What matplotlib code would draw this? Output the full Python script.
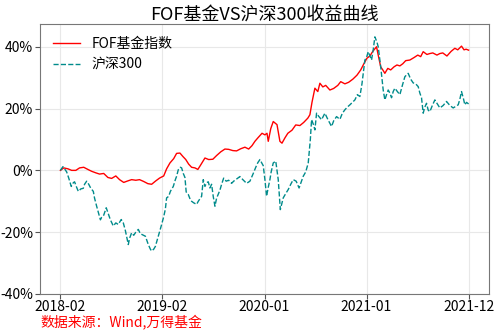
import numpy as np
import matplotlib
matplotlib.use("Agg")
import matplotlib.pyplot as plt
from matplotlib.ticker import PercentFormatter

plt.rcParams["font.family"] = ["Noto Sans CJK SC", "DejaVu Sans"]
plt.rcParams["axes.unicode_minus"] = False

# 交易日序号与累计收益(%)
fof_day = [0, 8, 18, 27, 37, 46, 56, 66, 75, 85, 94, 104, 114, 123, 133, 142,
           152, 162, 171, 181, 190, 200, 210, 219, 229, 238, 248, 255, 263, 272,
           279, 287, 294, 301, 308, 315, 323, 330, 337, 347, 356, 366, 375, 385,
           395, 404, 414, 423, 433, 443, 452, 460, 467, 474, 484, 491, 496, 499,
           505, 511, 520, 527, 532, 539, 546, 556, 565, 575, 584, 594, 599, 604,
           611, 618, 623, 630, 637, 647, 656, 666, 673, 683, 692, 702, 712, 721,
           729, 736, 743, 750, 759, 763, 769, 774, 779, 786, 793, 801, 808, 815,
           822, 829, 839, 849, 858, 865, 871, 880, 887, 894, 904, 911, 918, 928,
           938, 947, 954, 963, 969, 974, 980]
fof_ret = [0, 0.8, 0.5, 0, 0, 0.8, 1.0, 0.3, -0.3, -0.8, -1.2, -1.0, -2.3, -2.6,
           -1.8, -3.0, -3.9, -3.4, -3.0, -3.2, -3.0, -3.6, -4.3, -4.5, -3.4, -2.5,
           -1.8, 0.5, 2.4, 3.8, 5.5, 5.6, 4.5, 3.5, 2.0, 1.0, 0.8, 0.3, 1.8, 4.0,
           3.5, 3.6, 4.8, 6.0, 6.9, 6.8, 6.4, 6.3, 7.0, 7.5, 6.9, 8.0, 9.4, 10.5,
           12.0, 11.5, 12.0, 9.4, 13.5, 15.8, 14.8, 9.4, 8.8, 10.5, 12.0, 13.0,
           14.7, 14.5, 15.5, 16.9, 18.0, 22.0, 26.6, 25.5, 28.2, 27.0, 27.5, 26.0,
           26.5, 27.5, 28.7, 28.0, 28.5, 29.5, 30.8, 32.5, 34.6, 36.3, 37.0, 38.5,
           40.0, 37.3, 33.5, 32.5, 31.4, 33.0, 32.5, 33.5, 34.1, 33.8, 34.5, 35.5,
           35.7, 36.5, 37.3, 36.8, 38.4, 37.5, 37.8, 38.0, 37.3, 37.8, 38.0, 37.0,
           38.5, 39.5, 39.0, 40.2, 39.0, 39.2, 38.9]

hs300_day = [0, 6, 10, 15, 20, 26, 31, 34, 39, 43, 49, 55, 58, 63, 68, 73, 79,
             82, 87, 92, 96, 99, 104, 110, 115, 120, 127, 133, 139, 146, 151, 156,
             159, 163, 166, 171, 176, 181, 187, 192, 195, 200, 204, 207, 211, 216,
             219, 224, 228, 235, 242, 248, 252, 255, 260, 264, 271, 276, 279, 283,
             288, 291, 295, 299, 302, 307, 312, 315, 320, 327, 331, 339, 343, 347,
             351, 355, 359, 363, 367, 371, 375, 383, 387, 392, 398, 404, 411, 416,
             423, 431, 438, 447, 455, 463, 469, 474, 479, 487, 491, 495, 499, 503,
             506, 511, 517, 523, 528, 535, 541, 547, 553, 559, 566, 573, 583, 589,
             595, 600, 603, 607, 611, 615, 620, 627, 635, 642, 651, 656, 663, 671,
             677, 683, 689, 695, 701, 707, 713, 719, 724, 727, 731, 735, 739, 743,
             747, 751, 755, 760, 763, 769, 775, 779, 783, 787, 791, 795, 799, 803,
             809, 815, 821, 827, 835, 841, 847, 853, 859, 863, 867, 871, 875, 879,
             883, 887, 893, 899, 905, 911, 919, 927, 935, 943, 950, 955, 959, 963,
             968, 971, 975, 980]
hs300_ret = [0, 1.2, 0.5, -0.5, -2.5, -5.2, -4.0, -3.7, -5.5, -6.8, -6.0, -5.8,
             -4.5, -3.5, -4.5, -5.8, -6.8, -9.0, -11.6, -14.0, -16.0, -15.2, -14.5,
             -12.1, -14.0, -16.0, -18.0, -17.0, -17.5, -15.9, -17.0, -19.5, -21.5,
             -24.0, -22.0, -20.2, -21.0, -20.0, -19.1, -20.5, -20.7, -21.0, -21.3,
             -22.5, -24.0, -25.5, -26.1, -25.5, -24.6, -21.3, -18.0, -15.0, -12.5,
             -8.9, -8.4, -6.8, -5.2, -3.0, -1.9, 0.2, 1.0, 0.8, -1.0, -2.3, -7.0,
             -7.8, -9.5, -10.0, -10.5, -11.0, -10.0, -8.4, -3.0, -5.2, -4.0, -3.7,
             -5.7, -4.5, -8.5, -11.6, -9.0, -6.4, -4.5, -2.5, -3.5, -3.2, -4.2,
             -3.5, -2.8, -2.0, -3.0, -4.2, -3.5, -1.0, 1.0, 2.5, 3.5, 1.5, -3.0,
             -8.4, -5.5, -3.0, -0.5, 2.4, 3.0, -3.0, -12.7, -8.9, -7.5, -6.2, -4.5,
             -3.0, -3.5, -5.7, -1.9, -0.5, 2.4, 9.9, 16.4, 15.0, 13.1, 18.5, 17.5,
             16.4, 18.5, 16.5, 14.2, 16.0, 17.4, 16.5, 18.5, 19.6, 20.5, 21.2, 22.0,
             22.8, 24.5, 23.9, 28.0, 31.4, 35.7, 36.5, 38.4, 37.0, 35.7, 39.0, 43.2,
             41.5, 40.0, 33.5, 26.0, 22.8, 24.5, 26.0, 25.0, 23.5, 25.5, 26.6, 25.5,
             24.5, 27.5, 30.3, 31.4, 29.5, 28.3, 28.0, 27.1, 25.0, 23.5, 18.5, 20.5,
             21.7, 19.5, 19.0, 21.0, 22.8, 21.5, 20.2, 21.0, 22.3, 21.0, 20.2, 20.8,
             21.2, 23.0, 25.5, 23.0, 21.2, 22.0, 21.5]

tick_day = [0, 245, 490, 735, 980]
tick_label = ["2018-02", "2019-02", "2020-01", "2021-01", "2021-12"]

fig = plt.figure(figsize=(5, 3.35), dpi=100)
ax = fig.add_axes([0.08, 0.1224, 0.898, 0.8045])

ax.plot(fof_day, fof_ret, color="red", lw=1.0, label="FOF基金指数")
ax.plot(hs300_day, hs300_ret, color="darkcyan", lw=1.0, ls="--", label="沪深300")

ax.set_ylim(-40, 47.2)
ax.set_yticks([-40, -20, 0, 20, 40])
ax.yaxis.set_major_formatter(PercentFormatter(100, decimals=0))
ax.set_xticks(tick_day)
ax.set_xticklabels(tick_label)
ax.tick_params(labelsize=10, length=3.5, color="#555555")
ax.tick_params(axis="x", pad=1)
ax.tick_params(axis="y", pad=1.5)
ax.grid(True, color="#e8e8e8", lw=0.8)
for s in ax.spines.values():
    s.set_color("#777777")

ax.set_title("FOF基金VS沪深300收益曲线", fontsize=13, pad=3)
ax.legend(loc="upper left", frameon=False, fontsize=10)
fig.text(0.08, 0.018, "数据来源：Wind,万得基金", color="red", fontsize=10,
         va="bottom")

fig.savefig("out.png", dpi=100)
